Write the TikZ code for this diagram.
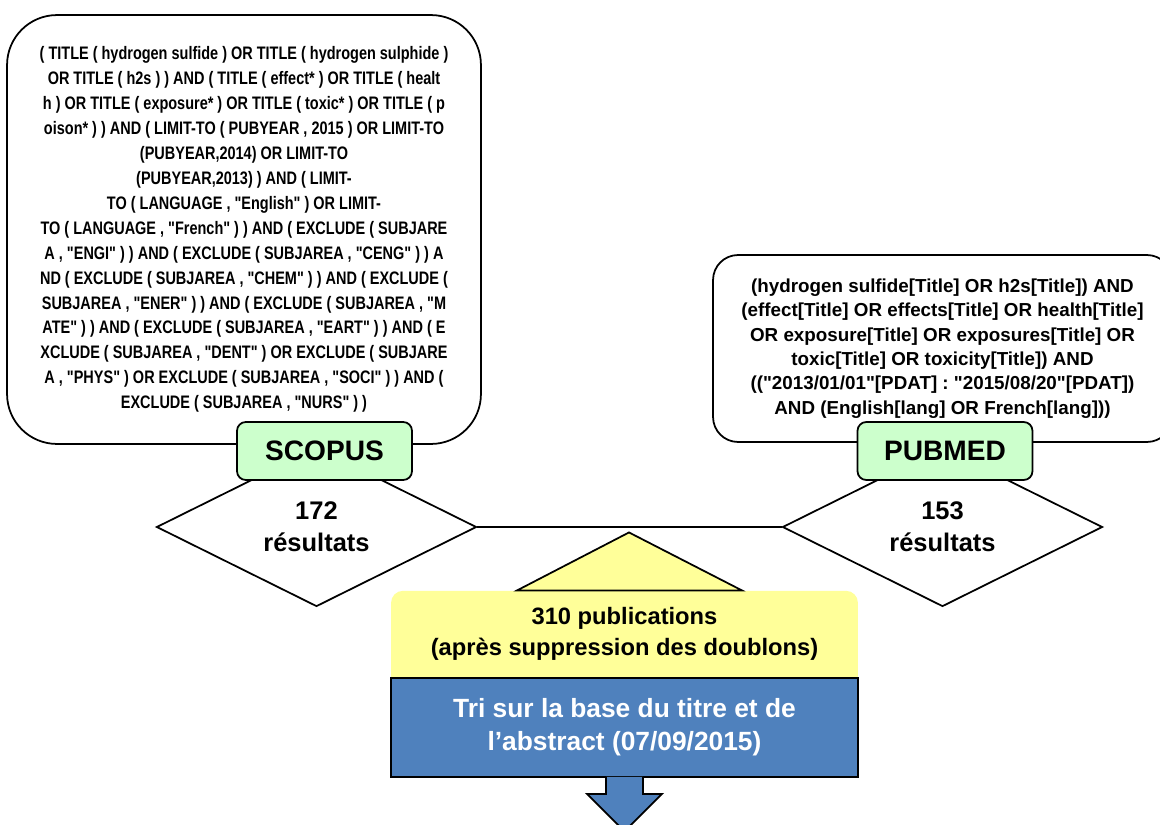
\documentclass[tikz,border=0pt]{standalone}
\usepackage{fontspec}
\setmainfont{Liberation Sans}[Ligatures=TeXOff]
\newfontfamily\narrowfont[FakeStretch=0.80]{Liberation Sans}
\usetikzlibrary{shapes.geometric,positioning}
\definecolor{dbgreen}{HTML}{CCFFCC}
\definecolor{pubyellow}{HTML}{FFFF99}
\definecolor{triblue}{HTML}{4F81BD}

\begin{document}
\begin{tikzpicture}[x=0.02cm, y=-0.02cm,
    query/.style ={draw, line width=1pt, align=center, inner sep=0pt},
    database/.style ={draw, line width=1pt, fill=dbgreen, rounded corners=5pt,
      minimum width=3.5cm, minimum height=1.16cm, font=\bfseries\fontsize{16}{19}\selectfont},
    results/.style ={diamond, draw, line width=1pt, fill=white, inner sep=0pt,
      minimum width=6.4cm, minimum height=3.18cm, align=center,
      font=\bfseries\fontsize{14.5}{18}\selectfont}]
   \useasboundingbox (0,0) rectangle (1160,825);
   % search queries
   \node[query, rounded corners=1cm, minimum width=9.48cm, minimum height=8.58cm,
     font=\narrowfont\bfseries\fontsize{10.3}{14.2}\selectfont] (scopusq) at (244,229.5)
     {( TITLE ( hydrogen sulfide ) OR TITLE ( hydrogen sulphide )\\
      OR TITLE ( h2s ) ) AND ( TITLE ( effect* ) OR TITLE ( healt\\
      h ) OR TITLE ( exposure* ) OR TITLE ( toxic* ) OR TITLE ( p\\
      oison* ) ) AND ( LIMIT-TO ( PUBYEAR , 2015 ) OR LIMIT-TO\\
      (PUBYEAR,2014) OR LIMIT-TO\\
      (PUBYEAR,2013) ) AND ( LIMIT-\\
      TO ( LANGUAGE , "English" ) OR LIMIT-\\
      TO ( LANGUAGE , "French" ) ) AND ( EXCLUDE ( SUBJARE\\
      A , "ENGI" ) ) AND ( EXCLUDE ( SUBJAREA , "CENG" ) ) A\\
      ND ( EXCLUDE ( SUBJAREA , "CHEM" ) ) AND ( EXCLUDE (\\
      SUBJAREA , "ENER" ) ) AND ( EXCLUDE ( SUBJAREA , "M\\
      ATE" ) ) AND ( EXCLUDE ( SUBJAREA , "EART" ) ) AND ( E\\
      XCLUDE ( SUBJAREA , "DENT" ) OR EXCLUDE ( SUBJARE\\
      A , "PHYS" ) OR EXCLUDE ( SUBJAREA , "SOCI" ) ) AND (\\
      EXCLUDE ( SUBJAREA , "NURS" ) )};
   \node[query, rounded corners=0.5cm, minimum width=9.18cm, minimum height=3.74cm,
     font=\bfseries\fontsize{10.7}{13.9}\selectfont] (pubmedq) at (942.5,348.5)
     {(hydrogen sulfide[Title] OR h2s[Title]) AND\\
      (effect[Title] OR effects[Title] OR health[Title]\\
      OR exposure[Title] OR exposures[Title] OR\\
      toxic[Title] OR toxicity[Title]) AND\\
      (("2013/01/01"[PDAT] : "2015/08/20"[PDAT])\\
      AND (English[lang] OR French[lang]))};
   % results
   \node[results] (scopusres)  at (316.5,527) {172\\résultats};
   \node[results] (pubmedres)  at (942.5,527) {153\\résultats};
   \draw[line width=1pt] (scopusres.east) -- (pubmedres.west);
   \node[database] (scopus)  at (324.5,451) {SCOPUS};
   \node[database] (pubmed)  at (945,451) {PUBMED};
   % merge and screening
   \node[draw, line width=1pt, fill=triblue, text=white, align=center,
     minimum width=9.34cm, minimum height=1.98cm,
     font=\bfseries\fontsize{15}{18.7}\selectfont] (tri)  at (624.5,727.5)
     {Tri sur la base du titre et de\\l’abstract (07/09/2015)};
   \node[fill=pubyellow, rounded corners=0.24cm, align=center, inner sep=0pt,
     minimum width=9.34cm, minimum height=1.72cm, above=0pt of tri,
     font=\bfseries\fontsize{13.5}{17.6}\selectfont] (pubs)
     {310 publications\\(après suppression des doublons)};
   \fill[pubyellow] ([yshift=0.22cm]pubs.south west) rectangle (pubs.south east);
   \draw[line width=1pt, fill=pubyellow, shift={(pubs.north)}]
     (-107.5,0) -- (4.5,-58) -- (117.5,0) -- cycle;
   \filldraw[line width=1pt, fill=triblue, shift={(tri.south)}]
     (-18.5,-1) -- (-18.5,16) -- (-37.5,16) -- (0,53.5) -- (37.5,16) -- (18.5,16) -- (18.5,-1);
 \end{tikzpicture}
\end{document}
